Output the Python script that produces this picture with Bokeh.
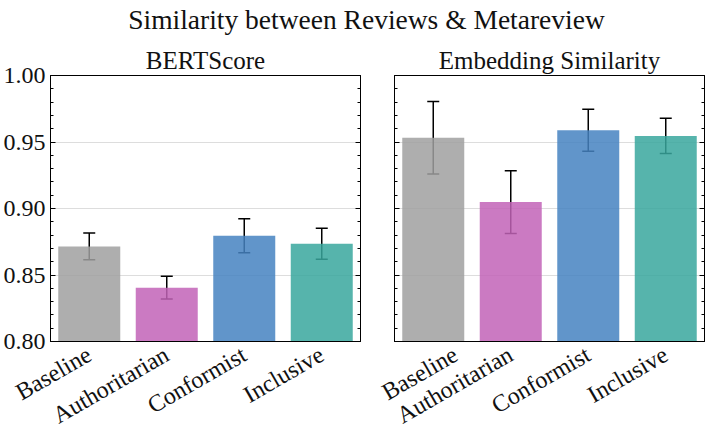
import math
from bokeh.plotting import figure
from bokeh.models import (ColumnDataSource, Whisker, TeeHead, LinearAxis, FixedTicker,
                          Range1d, FactorRange, PrintfTickFormatter, Label,
                          CustomJSTickFormatter)
from bokeh.layouts import column, row
from bokeh.embed import file_html
from bokeh.resources import INLINE

# ---- data ----
categories = ["Baseline", "Authoritarian", "Conformist", "Inclusive"]
bert_mean = [0.8715, 0.8405, 0.8795, 0.8735]
bert_err = [0.0100, 0.0085, 0.0127, 0.0116]
emb_mean = [0.9532, 0.9048, 0.9588, 0.9546]
emb_err = [0.0272, 0.0236, 0.0158, 0.0133]
colors = ["#A0A0A0", "#C263B7", "#4583C1", "#38A79D"]
suptitle = "Similarity between Reviews & Metareview"
subtitles = ["BERTScore", "Embedding Similarity"]
y_ticks = [0.80, 0.85, 0.90, 0.95, 1.00]
y_minor = [round(0.80 + 0.01 * i, 2) for i in range(21)]

FONT = "Liberation Serif"
FW = 310
TOP = 35
ROW_H = 402
SUP_H = 40


def make_panel(title, means, errs, left_labels, lb, rb):
    src = ColumnDataSource(dict(cat=categories, top=means, color=colors,
                                upper=[m + e for m, e in zip(means, errs)],
                                lower=[m - e for m, e in zip(means, errs)]))
    p = figure(x_range=FactorRange(*categories, range_padding=0),
               y_range=Range1d(0.80, 1.00),
               width=lb + FW + rb, height=ROW_H,
               min_border_left=lb, min_border_right=rb,
               min_border_top=TOP, min_border_bottom=0,
               toolbar_location=None, output_backend="svg", title=title)
    p.title.text_font = FONT
    p.title.text_font_size = "25px"
    p.title.text_font_style = "normal"
    p.title.align = "center"
    p.title.text_color = "#111111"
    p.title.standoff = 3

    p.vbar(x="cat", top="top", bottom=0.80, width=0.8, source=src,
           fill_color="color", fill_alpha=0.85, line_color=None)
    w = Whisker(source=src, base="cat", upper="upper", lower="lower",
                line_color="black", line_width=1.5,
                upper_head=TeeHead(size=12, line_color="black", line_width=1.5),
                lower_head=TeeHead(size=12, line_color="black", line_width=1.5))
    p.add_layout(w)

    p.xgrid.visible = False
    p.ygrid.ticker = FixedTicker(ticks=y_ticks)
    p.ygrid.grid_line_color = "#dddddd"
    p.ygrid.grid_line_width = 1

    p.outline_line_color = "black"
    p.outline_line_width = 1

    xa = p.xaxis[0]
    xa.major_tick_line_color = None
    xa.minor_tick_line_color = None
    xa.axis_line_color = "black"
    xa.major_label_orientation = math.pi / 6
    xa.major_label_text_font = FONT
    xa.major_label_text_font_size = "24px"
    xa.major_label_text_color = "#111111"
    xa.major_label_standoff = 5

    ya = p.yaxis[0]
    ra = LinearAxis()
    p.add_layout(ra, "right")
    for ax in (ya, ra):
        ax.ticker = FixedTicker(ticks=y_ticks, minor_ticks=y_minor)
        ax.formatter = PrintfTickFormatter(format="%.2f")
        ax.major_tick_in = 5
        ax.major_tick_out = 0
        ax.minor_tick_in = 3
        ax.minor_tick_out = 0
        ax.axis_line_color = "black"
        ax.major_tick_line_color = "black"
        ax.minor_tick_line_color = "black"
        ax.major_label_text_font = FONT
        ax.major_label_text_font_size = "24px"
        ax.major_label_text_color = "#111111"
        ax.major_label_standoff = 5
    ra.formatter = CustomJSTickFormatter(code="return '';")
    ra.major_label_standoff = 0
    if not left_labels:
        ya.formatter = CustomJSTickFormatter(code="return '';")
        ya.major_label_standoff = 0
    return p


p1 = make_panel(subtitles[0], bert_mean, bert_err, True, 50, 17)
p2 = make_panel(subtitles[1], emb_mean, emb_err, False, 17, 1)
total_w = p1.width + p2.width

t = figure(width=total_w, height=SUP_H, x_range=Range1d(0, 1), y_range=Range1d(0, 1),
           toolbar_location=None, output_backend="svg", min_border=0)
t.axis.visible = False
t.grid.visible = False
t.outline_line_color = None
t.add_layout(Label(x=366, y=SUP_H - 19, x_units="screen", y_units="screen", text=suptitle,
                   text_align="center", text_baseline="middle", text_font=FONT,
                   text_font_size="27.5px", text_color="#111111"))

layout = column(t, row(p1, p2))
open("out.html", "w").write(file_html(layout, INLINE))
